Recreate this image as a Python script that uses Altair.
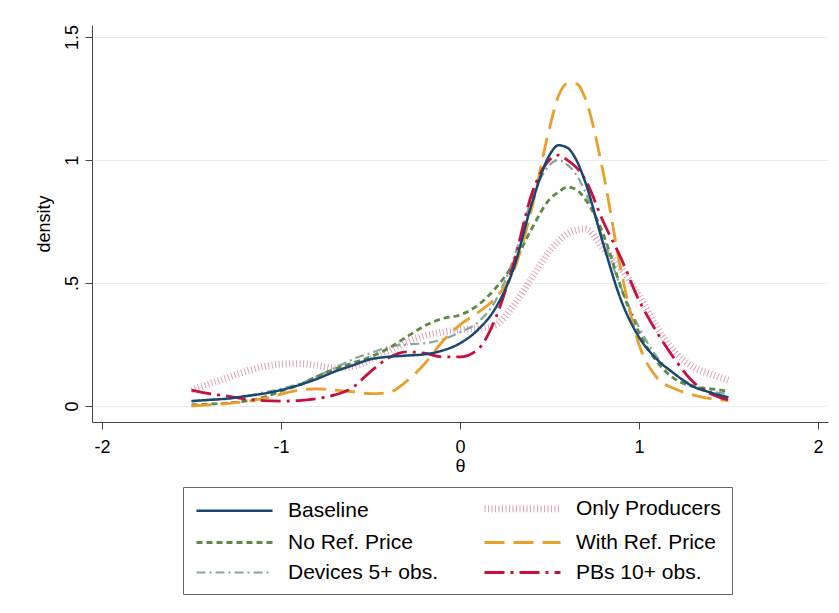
import altair as alt
import pandas as pd

theta = [-1.5, -1.4, -1.3, -1.2, -1.1, -1.0, -0.9, -0.8, -0.7, -0.6, -0.5, -0.4, -0.3, -0.2, -0.1,
         0.0, 0.1, 0.2, 0.3, 0.4, 0.5, 0.55, 0.6, 0.65, 0.7, 0.8, 0.9, 1.0, 1.1, 1.2, 1.3, 1.4, 1.5]

baseline = [0.02, 0.025, 0.03, 0.04, 0.05, 0.065, 0.085, 0.11, 0.14, 0.165, 0.19, 0.2, 0.205, 0.21, 0.225,
            0.255, 0.31, 0.40, 0.56, 0.82, 1.02, 1.06, 1.05, 1.0, 0.91, 0.66, 0.43, 0.28, 0.19, 0.13, 0.08, 0.055, 0.035]
only_producers = [0.065, 0.09, 0.115, 0.14, 0.16, 0.17, 0.172, 0.165, 0.155, 0.16, 0.19, 0.225, 0.26, 0.285, 0.3,
                  0.31, 0.315, 0.33, 0.41, 0.52, 0.63, 0.67, 0.70, 0.715, 0.72, 0.64, 0.56, 0.45, 0.32, 0.22, 0.16, 0.13, 0.105]
no_ref = [0.005, 0.008, 0.012, 0.02, 0.035, 0.06, 0.085, 0.12, 0.15, 0.175, 0.2, 0.235, 0.28, 0.325, 0.355,
          0.37, 0.41, 0.48, 0.58, 0.72, 0.84, 0.87, 0.89, 0.88, 0.84, 0.70, 0.48, 0.30, 0.18, 0.11, 0.08, 0.07, 0.06]
with_ref = [0.0, 0.005, 0.01, 0.018, 0.03, 0.048, 0.065, 0.07, 0.065, 0.058, 0.05, 0.055, 0.1, 0.17, 0.26,
            0.33, 0.38, 0.44, 0.55, 0.80, 1.13, 1.26, 1.31, 1.31, 1.25, 0.95, 0.55, 0.25, 0.115, 0.07, 0.045, 0.03, 0.022]
devices = [0.02, 0.025, 0.03, 0.04, 0.055, 0.07, 0.09, 0.12, 0.155, 0.19, 0.215, 0.24, 0.25, 0.255, 0.27,
           0.30, 0.34, 0.43, 0.60, 0.84, 0.98, 1.0, 0.98, 0.94, 0.87, 0.68, 0.48, 0.32, 0.2, 0.13, 0.085, 0.06, 0.05]
pbs = [0.065, 0.05, 0.04, 0.028, 0.022, 0.02, 0.022, 0.03, 0.045, 0.075, 0.14, 0.195, 0.22, 0.215, 0.2,
       0.2, 0.23, 0.36, 0.58, 0.86, 1.0, 1.02, 1.0, 0.97, 0.92, 0.75, 0.60, 0.43, 0.30, 0.19, 0.10, 0.05, 0.025]

# legend is filled column by column: left column first, then right column
names = ["Baseline", "No Ref. Price", "Devices 5+ obs.", "Only Producers", "With Ref. Price", "PBs 10+ obs."]
colors = ["#1a476f", "#5f8a45", "#86a59c", "#dca3b6", "#e89f2c", "#c8103f"]
dashes = [[1, 0], [6, 4], [9, 4, 2, 4], [1, 2.5], [20, 9], [20, 6, 3, 6]]
widths = [2.5, 2.8, 2.2, 7, 2.8, 2.8]

series = {
    "Baseline": baseline,
    "Only Producers": only_producers,
    "No Ref. Price": no_ref,
    "With Ref. Price": with_ref,
    "Devices 5+ obs.": devices,
    "PBs 10+ obs.": pbs,
}
draw_order = ["Only Producers", "Devices 5+ obs.", "No Ref. Price", "With Ref. Price", "PBs 10+ obs.", "Baseline"]

rows = []
for name in draw_order:
    for t, v in zip(theta, series[name]):
        rows.append({"theta": t, "density": v, "series": name})
df = pd.DataFrame(rows)

legend = alt.Legend(
    title=None, orient="none", legendX=91, legendY=462, columns=2,
    symbolType="M-2,0H17", symbolSize=64, labelFontSize=21, labelFont="Liberation Sans",
    labelColor="#000", labelOffset=73, columnPadding=32, rowPadding=8, padding=11,
    strokeColor="#666", fillColor="white", labelLimit=300,
)

chart = alt.Chart(df).mark_line(interpolate="monotone").encode(
    x=alt.X("theta:Q", title="θ",
            scale=alt.Scale(domain=[-2.056, 2.056], nice=False, zero=False),
            axis=alt.Axis(values=[-2, -1, 0, 1, 2], grid=False, labelPadding=9,
                          labelExpr="datum.value < 0 ? '-' + abs(datum.value) : '' + datum.value")),
    y=alt.Y("density:Q", title="density",
            scale=alt.Scale(domain=[-0.065, 1.549], nice=False, zero=False),
            axis=alt.Axis(values=[0, 0.5, 1, 1.5], grid=True, labelAngle=-90,
                          labelAlign="center", labelBaseline="bottom", labelPadding=4,
                          labelExpr="datum.value == 0.5 ? '.5' : '' + datum.value")),
    color=alt.Color("series:N", scale=alt.Scale(domain=names, range=colors), sort=names, legend=legend),
    strokeDash=alt.StrokeDash("series:N", scale=alt.Scale(domain=names, range=dashes), sort=names, legend=legend),
    strokeWidth=alt.StrokeWidth("series:N", scale=alt.Scale(type="ordinal", domain=names, range=widths),
                                sort=names, legend=legend),
    detail="series:N",
).properties(
    width=736, height=397,
    autosize=alt.AutoSizeParams(type="none"),
    padding={"left": 84, "top": 17, "right": 3, "bottom": 180},
).configure_view(stroke=None).configure_axis(
    labelFont="Liberation Sans", titleFont="Liberation Sans",
    labelFontSize=18, titleFontSize=18, labelColor="#000", titleColor="#000",
    titleFontWeight="normal", domainColor="#444", tickColor="#444", tickSize=7,
    gridColor="#ebebeb",
).configure_axisX(titlePadding=1).configure_axisY(titlePadding=10)

chart.save("out.html", embed_options={"renderer": "svg", "actions": False})
